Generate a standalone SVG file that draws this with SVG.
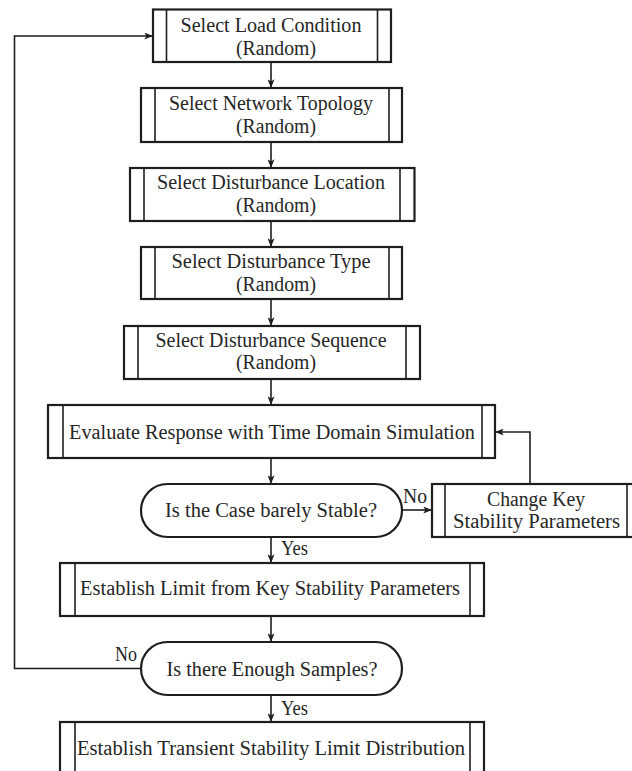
<svg xmlns="http://www.w3.org/2000/svg" width="632" height="771" viewBox="0 0 632 771">
  <style>
    .box { fill: #fff; stroke: #1e1e1e; stroke-width: 2.2; }
    .bar { stroke: #1e1e1e; stroke-width: 1.6; }
    .txt { font-family: "Liberation Serif", "DejaVu Serif", serif; font-size: 20px; fill: #262626; text-anchor: middle; }
    .lbl { font-family: "Liberation Serif", "DejaVu Serif", serif; font-size: 20px; fill: #262626; }
    .wire { fill: none; stroke: #1e1e1e; stroke-width: 1.6; }
  </style>
  <defs>
    <marker id="arrow" viewBox="0 0 10 8" refX="10" refY="4" markerWidth="10" markerHeight="7" markerUnits="userSpaceOnUse" orient="auto">
      <path d="M0,0 L10,4 L0,8 L2.5,4 Z" fill="#1e1e1e"/>
    </marker>
  </defs>
  <rect width="632" height="771" fill="#fff"/>

  <g id="connectors">
    <line class="wire" x1="271" y1="62" x2="271" y2="88" marker-end="url(#arrow)"/>
    <line class="wire" x1="271" y1="142" x2="271" y2="168" marker-end="url(#arrow)"/>
    <line class="wire" x1="271" y1="221" x2="271" y2="247" marker-end="url(#arrow)"/>
    <line class="wire" x1="271" y1="299" x2="271" y2="326" marker-end="url(#arrow)"/>
    <line class="wire" x1="271" y1="379" x2="271" y2="405" marker-end="url(#arrow)"/>
    <line class="wire" x1="271" y1="458" x2="271" y2="484" marker-end="url(#arrow)"/>
    <line class="wire" x1="271" y1="537" x2="271" y2="563" marker-end="url(#arrow)"/>
    <line class="wire" x1="271" y1="616" x2="271" y2="642" marker-end="url(#arrow)"/>
    <line class="wire" x1="271" y1="695" x2="271" y2="722" marker-end="url(#arrow)"/>
    <line class="wire" x1="402" y1="510" x2="432" y2="510" marker-end="url(#arrow)"/>
    <polyline class="wire" points="530,484 530,432 495,432" marker-end="url(#arrow)"/>
    <polyline class="wire" points="141,668.5 14.5,668.5 14.5,36 153,36" marker-end="url(#arrow)"/>
    <text class="lbl" x="403" y="503" textLength="24" lengthAdjust="spacingAndGlyphs">No</text>
    <text class="lbl" x="281" y="555" textLength="27" lengthAdjust="spacingAndGlyphs">Yes</text>
    <text class="lbl" x="115" y="661" textLength="22" lengthAdjust="spacingAndGlyphs">No</text>
    <text class="lbl" x="281" y="715" textLength="27" lengthAdjust="spacingAndGlyphs">Yes</text>
  </g>

  <g id="load-condition">
    <rect class="box" x="153" y="9.5" width="238" height="52.5"/>
    <line class="bar" x1="166.5" y1="9.5" x2="166.5" y2="62"/>
    <line class="bar" x1="377.5" y1="9.5" x2="377.5" y2="62"/>
    <text class="txt" x="271" y="32" textLength="181" lengthAdjust="spacingAndGlyphs">Select Load Condition</text>
    <text class="txt" x="276" y="55" textLength="80" lengthAdjust="spacingAndGlyphs">(Random)</text>
  </g>

  <g id="network-topology">
    <rect class="box" x="141" y="88" width="261" height="54"/>
    <line class="bar" x1="155" y1="88" x2="155" y2="142"/>
    <line class="bar" x1="389" y1="88" x2="389" y2="142"/>
    <text class="txt" x="271" y="110" textLength="204" lengthAdjust="spacingAndGlyphs">Select Network Topology</text>
    <text class="txt" x="276" y="133" textLength="80" lengthAdjust="spacingAndGlyphs">(Random)</text>
  </g>

  <g id="disturbance-location">
    <rect class="box" x="130" y="168" width="284.5" height="53"/>
    <line class="bar" x1="144" y1="168" x2="144" y2="221"/>
    <line class="bar" x1="400" y1="168" x2="400" y2="221"/>
    <text class="txt" x="271" y="189" textLength="228" lengthAdjust="spacingAndGlyphs">Select Disturbance Location</text>
    <text class="txt" x="276" y="212" textLength="80" lengthAdjust="spacingAndGlyphs">(Random)</text>
  </g>

  <g id="disturbance-type">
    <rect class="box" x="141" y="247" width="261" height="52"/>
    <line class="bar" x1="155" y1="247" x2="155" y2="299"/>
    <line class="bar" x1="389" y1="247" x2="389" y2="299"/>
    <text class="txt" x="271" y="268" textLength="199" lengthAdjust="spacingAndGlyphs">Select Disturbance Type</text>
    <text class="txt" x="276" y="291" textLength="80" lengthAdjust="spacingAndGlyphs">(Random)</text>
  </g>

  <g id="disturbance-sequence">
    <rect class="box" x="124" y="326" width="296" height="53"/>
    <line class="bar" x1="138" y1="326" x2="138" y2="379"/>
    <line class="bar" x1="406" y1="326" x2="406" y2="379"/>
    <text class="txt" x="271" y="347" textLength="231" lengthAdjust="spacingAndGlyphs">Select Disturbance Sequence</text>
    <text class="txt" x="276" y="369" textLength="80" lengthAdjust="spacingAndGlyphs">(Random)</text>
  </g>

  <g id="evaluate-response">
    <rect class="box" x="48" y="405" width="447" height="53"/>
    <line class="bar" x1="63" y1="405" x2="63" y2="458"/>
    <line class="bar" x1="482" y1="405" x2="482" y2="458"/>
    <text class="txt" x="272" y="439" textLength="406" lengthAdjust="spacingAndGlyphs">Evaluate Response with Time Domain Simulation</text>
  </g>

  <g id="barely-stable">
    <rect class="box" x="141" y="484" width="261" height="53" rx="26.5" ry="26.5"/>
    <text class="txt" x="271" y="517" textLength="212" lengthAdjust="spacingAndGlyphs">Is the Case barely Stable?</text>
  </g>

  <g id="change-parameters">
    <rect class="box" x="432" y="484" width="208" height="53"/>
    <line class="bar" x1="445" y1="484" x2="445" y2="537"/>
    <line class="bar" x1="627" y1="484" x2="627" y2="537"/>
    <text class="txt" x="536" y="506" textLength="98" lengthAdjust="spacingAndGlyphs">Change Key</text>
    <text class="txt" x="536.5" y="528" textLength="167" lengthAdjust="spacingAndGlyphs">Stability Parameters</text>
  </g>

  <g id="establish-limit">
    <rect class="box" x="60" y="563" width="424" height="53"/>
    <line class="bar" x1="75" y1="563" x2="75" y2="616"/>
    <line class="bar" x1="470" y1="563" x2="470" y2="616"/>
    <text class="txt" x="270" y="595" textLength="380" lengthAdjust="spacingAndGlyphs">Establish Limit from Key Stability Parameters</text>
  </g>

  <g id="enough-samples">
    <rect class="box" x="141" y="642" width="261" height="53" rx="26.5" ry="26.5"/>
    <text class="txt" x="272" y="676" textLength="211" lengthAdjust="spacingAndGlyphs">Is there Enough Samples?</text>
  </g>

  <g id="limit-distribution">
    <rect class="box" x="60" y="722" width="424" height="54"/>
    <line class="bar" x1="75" y1="722" x2="75" y2="776"/>
    <line class="bar" x1="470" y1="722" x2="470" y2="776"/>
    <text class="txt" x="271" y="755" textLength="388" lengthAdjust="spacingAndGlyphs">Establish Transient Stability Limit Distribution</text>
  </g>
</svg>
